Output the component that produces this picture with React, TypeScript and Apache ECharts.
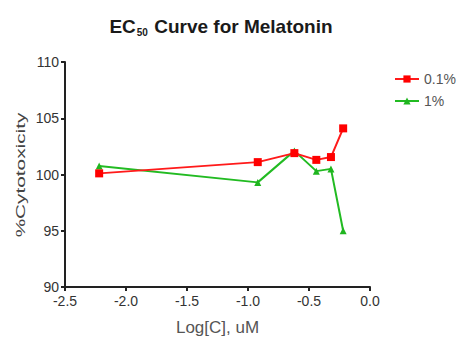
import React, { useEffect, useRef } from "react";
import * as echarts from "echarts";

const logC = [-2.22, -0.92, -0.62, -0.44, -0.32, -0.22];
const series01 = [100.1, 101.1, 101.9, 101.3, 101.55, 104.1];
const series1 = [100.75, 99.3, 102.1, 100.3, 100.5, 95.0];
const seriesNames = ["0.1%", "1%"];
const yAxisTitle = "%Cytotoxicity";
const xAxisTitle = "Log[C], uM";

export default function App() {
  const ref = useRef<HTMLDivElement>(null);
  useEffect(() => {
    const chart = echarts.init(ref.current!, null, { renderer: "svg" });
    const font = "Liberation Sans, Arial, sans-serif";
    chart.setOption({
      animation: false,
      backgroundColor: "#fff",
      title: {
        text: "{a|EC}{s|50}{a| Curve for Melatonin}",
        left: 216,
        top: 11,
        textAlign: "center",
        textStyle: {
          rich: {
            a: { fontFamily: font, fontWeight: "bold", fontSize: 19, color: "#1a1a1a" },
            s: { fontFamily: font, fontWeight: "bold", fontSize: 10, color: "#1a1a1a", verticalAlign: "bottom", padding: [11, 1, 0, 1] },
          },
        },
      },
      legend: {
        left: 389,
        top: 66,
        orient: "vertical",
        itemGap: 6,
        itemWidth: 24,
        itemHeight: 9,
        textStyle: { fontFamily: font, fontSize: 14, color: "#555", lineHeight: 16 },
        data: seriesNames,
      },
      graphic: [
        {
          type: "text",
          x: 21,
          y: 175,
          rotation: Math.PI / 2,
          scaleX: 1.6,
          style: {
            text: yAxisTitle,
            fontFamily: font,
            fontSize: 13,
            fill: "#444",
            align: "center",
            verticalAlign: "middle",
          },
        },
      ],
      grid: { left: 65, right: 95, top: 62, bottom: 54 },
      xAxis: {
        type: "value",
        min: -2.5,
        max: 0,
        interval: 0.5,
        name: xAxisTitle,
        nameLocation: "middle",
        nameGap: 32,
        nameTextStyle: { fontFamily: font, fontSize: 17, color: "#555" },
        axisLine: { onZero: false, lineStyle: { color: "#222", width: 2 } },
        axisTick: { show: true, length: 4, lineStyle: { color: "#222", width: 2 } },
        axisLabel: {
          fontFamily: font,
          fontSize: 14,
          color: "#333",
          margin: 7,
          formatter: (v: number) => v.toFixed(1),
        },
        splitLine: { show: false },
      },
      yAxis: {
        type: "value",
        min: 90,
        max: 110,
        interval: 5,
        axisLine: { show: true, onZero: false, lineStyle: { color: "#222", width: 2 } },
        axisTick: { show: true, length: 4, lineStyle: { color: "#222", width: 2 } },
        axisLabel: { fontFamily: font, fontSize: 14, color: "#333", margin: 6 },
        splitLine: { show: false },
      },
      series: [
        {
          name: seriesNames[0],
          type: "line",
          data: logC.map((x, i) => [x, series01[i]]),
          symbol: "rect",
          symbolSize: 8,
          lineStyle: { color: "#ff1a1a", width: 2 },
          itemStyle: { color: "#ff0000" },
          z: 3,
        },
        {
          name: seriesNames[1],
          type: "line",
          data: logC.map((x, i) => [x, series1[i]]),
          symbol: "triangle",
          symbolSize: 7,
          lineStyle: { color: "#22bb22", width: 2 },
          itemStyle: { color: "#1fb51f" },
          z: 2,
        },
      ],
    });
    return () => chart.dispose();
  }, []);
  return <div ref={ref} style={{ width: 465, height: 341, position: "absolute", left: 0, top: 0 }} />;
}
